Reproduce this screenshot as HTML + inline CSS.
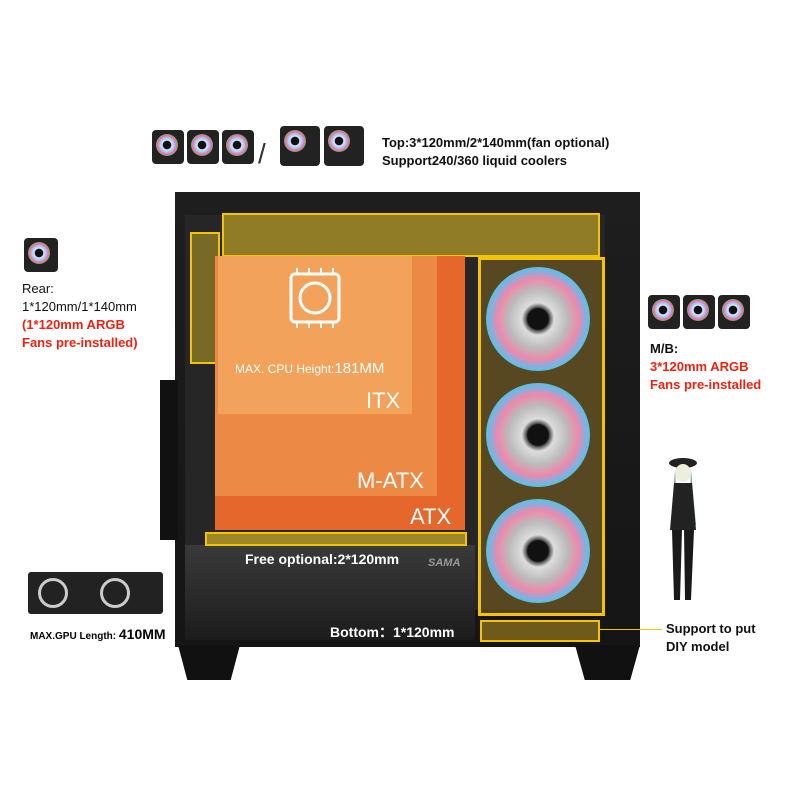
<!DOCTYPE html>
<html><head><meta charset="utf-8"><style>
body{margin:0;width:800px;height:800px;background:#fff;position:relative;overflow:hidden;font-family:"Liberation Sans",sans-serif}
.a{position:absolute}
.fan{position:absolute;width:30px;height:30px;background:#222;border-radius:4px}
.fan:after{content:"";position:absolute;left:4px;top:4px;width:22px;height:22px;border-radius:50%;background:radial-gradient(circle,#111 25%,#e8e8f0 30%,#9cf 45%,#f6a 60%,#4c4 72%,#222 80%)}
.big{position:absolute;width:104px;height:104px;border-radius:50%;background:radial-gradient(circle,#111 14%,#555 16%,#ddd 22%,#bbb 40%,#e8a 55%,#6be 68%,#5c5 78%,#222 84%)}
.t{font-size:13px;color:#111;line-height:18px;font-weight:bold}
.r{color:#e21;font-weight:bold}
</style></head><body>
<div class="a" style="left:175px;top:192px;width:465px;height:455px;background:linear-gradient(#1e1e1e,#151515)"></div>
<div class="a" style="left:185px;top:215px;width:420px;height:395px;background:#262626"></div>
<div class="a" style="left:160px;top:380px;width:18px;height:160px;background:#111"></div>
<div class="a" style="left:178px;top:645px;width:62px;height:35px;background:#111;clip-path:polygon(0 0,100% 0,85% 100%,15% 100%)"></div>
<div class="a" style="left:575px;top:645px;width:65px;height:35px;background:#111;clip-path:polygon(0 0,100% 0,85% 100%,15% 100%)"></div>
<div class="a" style="left:185px;top:545px;width:290px;height:95px;background:linear-gradient(#3a3a3a,#1c1c1c)"></div>
<div class="a" style="left:222px;top:213px;width:374px;height:40px;background:rgba(190,160,40,.7);border:2px solid #f5c400"></div>
<div class="a" style="left:190px;top:232px;width:26px;height:128px;background:rgba(190,160,40,.55);border:2px solid #f5c400"></div>
<div class="a" style="left:215px;top:256px;width:250px;height:274px;background:#e5672b"></div>
<div class="a" style="left:215px;top:256px;width:222px;height:240px;background:#ec8a45"></div>
<div class="a" style="left:218px;top:256px;width:194px;height:158px;background:#f2a25a"></div>
<svg class="a" style="left:285px;top:268px" width="60" height="80"><rect x="6" y="6" width="48" height="48" rx="4" fill="none" stroke="#fff" stroke-width="3"/><circle cx="30" cy="30" r="15" fill="none" stroke="#fff" stroke-width="3"/><g stroke="#fff" stroke-width="2"><line x1="12" y1="0" x2="12" y2="6"/><line x1="24" y1="0" x2="24" y2="6"/><line x1="36" y1="0" x2="36" y2="6"/><line x1="48" y1="0" x2="48" y2="6"/><line x1="12" y1="54" x2="12" y2="60"/><line x1="24" y1="54" x2="24" y2="60"/><line x1="36" y1="54" x2="36" y2="60"/><line x1="48" y1="54" x2="48" y2="60"/></g></svg>
<div class="a" style="left:235px;top:360px;color:#fff;font-size:12px">MAX. CPU Height:<span style="font-size:15px">181MM</span></div>
<div class="a" style="left:366px;top:388px;color:#fff;font-size:22px">ITX</div>
<div class="a" style="left:357px;top:468px;color:#fff;font-size:22px">M-ATX</div>
<div class="a" style="left:410px;top:504px;color:#fff;font-size:22px">ATX</div>
<div class="a" style="left:205px;top:532px;width:258px;height:10px;background:rgba(190,160,40,.8);border:2px solid #f5c400"></div>
<div class="a" style="left:245px;top:551px;color:#fff;font-size:14px;font-weight:bold">Free optional:2*120mm</div>
<div class="a" style="left:428px;top:557px;color:#999;font-size:11px;font-weight:bold;font-style:italic">SAMA</div>
<div class="a" style="left:330px;top:622px;color:#fff;font-size:14px;font-weight:bold">Bottom：1*120mm</div>
<div class="a" style="left:478px;top:257px;width:121px;height:353px;background:rgba(120,95,30,.6);border:3px solid #f5c400"></div>
<div class="big" style="left:486px;top:267px"></div>
<div class="big" style="left:486px;top:383px"></div>
<div class="big" style="left:486px;top:499px"></div>
<div class="a" style="left:480px;top:620px;width:116px;height:18px;background:rgba(150,120,30,.7);border:2px solid #f5c400"></div>
<div class="fan" style="left:152px;top:130px;width:32px;height:34px"></div>
<div class="fan" style="left:187px;top:130px;width:32px;height:34px"></div>
<div class="fan" style="left:222px;top:130px;width:32px;height:34px"></div>
<div class="a" style="left:258px;top:138px;font-size:28px;color:#333">/</div>
<div class="fan" style="left:280px;top:126px;width:40px;height:40px"></div>
<div class="fan" style="left:324px;top:126px;width:40px;height:40px"></div>
<div class="a t" style="left:382px;top:134px">Top:3*120mm/2*140mm(fan optional)<br>Support240/360 liquid coolers</div>
<div class="fan" style="left:24px;top:238px;width:34px;height:34px"></div>
<div class="a t" style="left:22px;top:280px;font-weight:normal">Rear:<br>1*120mm/1*140mm<br><span class="r">(1*120mm ARGB<br>Fans pre-installed)</span></div>
<div class="fan" style="left:648px;top:295px;width:32px;height:34px"></div>
<div class="fan" style="left:683px;top:295px;width:32px;height:34px"></div>
<div class="fan" style="left:718px;top:295px;width:32px;height:34px"></div>
<div class="a t" style="left:650px;top:340px">M/B:<br><span class="r">3*120mm ARGB<br>Fans pre-installed</span></div>
<div class="a" style="left:28px;top:572px;width:135px;height:42px;background:#222;border-radius:3px"></div>
<div class="a" style="left:38px;top:578px;width:30px;height:30px;border-radius:50%;border:3px solid #ccc;box-sizing:border-box"></div>
<div class="a" style="left:100px;top:578px;width:30px;height:30px;border-radius:50%;border:3px solid #ccc;box-sizing:border-box"></div>
<div class="a" style="left:30px;top:626px;font-size:10px;font-weight:bold">MAX.GPU Length: <span style="font-size:14px">410MM</span></div>
<svg class="a" style="left:650px;top:455px" width="70" height="150"><ellipse cx="33" cy="8" rx="14" ry="5" fill="#222"/><ellipse cx="33" cy="18" rx="8" ry="9" fill="#eed"/><path d="M25 15 L21 70 L28 70 Z M41 15 L46 70 L39 70 Z" fill="#6a8"/><path d="M24 28 L42 28 L46 75 L20 75 Z" fill="#222"/><path d="M22 75 L32 75 L30 145 L24 145 Z M34 75 L44 75 L41 145 L35 145 Z" fill="#1a1a1a"/></svg>
<div class="a t" style="left:666px;top:620px">Support to put<br>DIY model</div>
<div class="a" style="left:598px;top:629px;width:64px;height:1px;background:#f5c400"></div>
</body></html>
